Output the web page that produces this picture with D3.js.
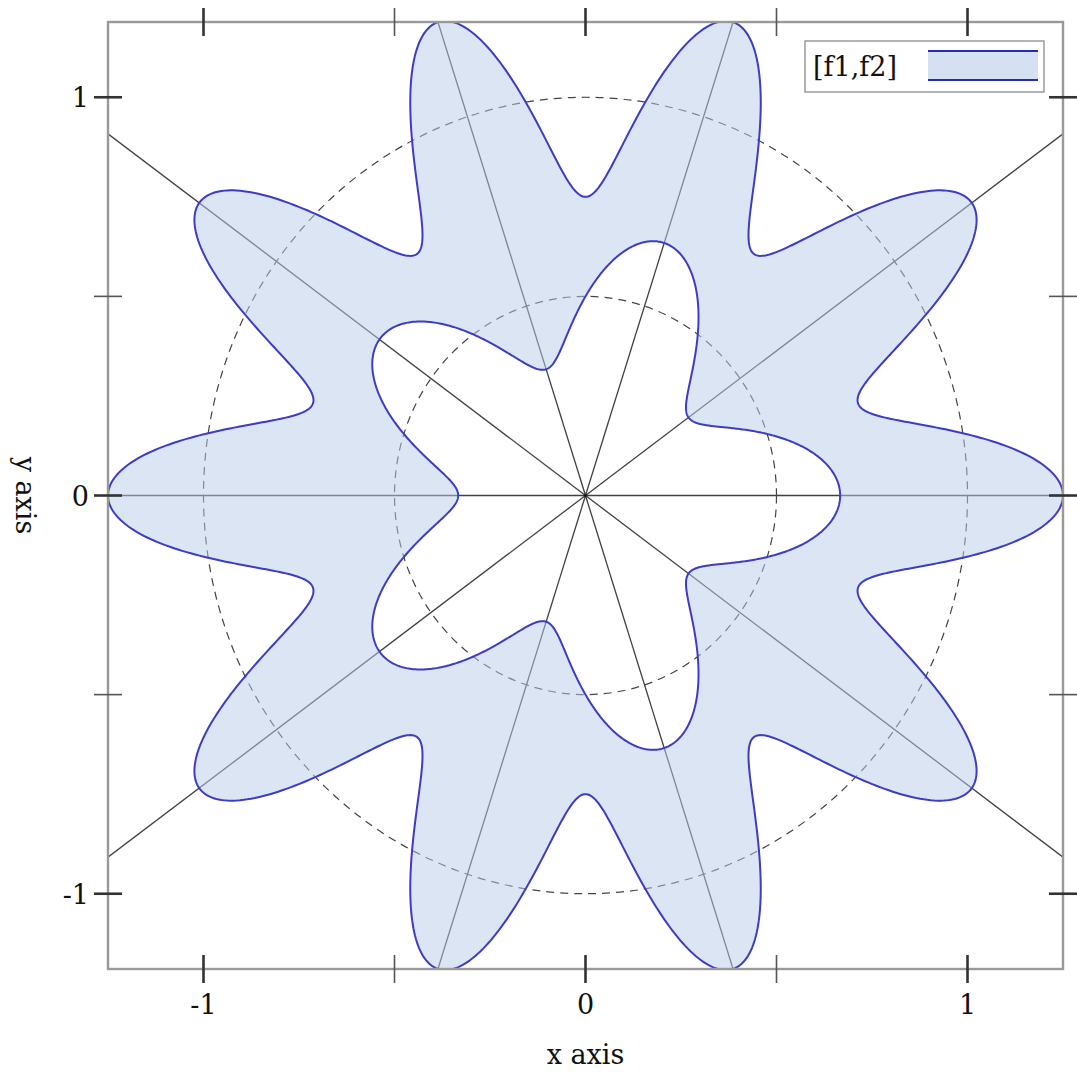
<!DOCTYPE html>
<html>
<head>
<meta charset="utf-8">
<script src="https://cdn.jsdelivr.net/npm/d3@7"></script>
<style>
  body { margin: 0; background: #fff; }
  text { font-family: 'DejaVu Serif', serif; fill: #111; }
</style>
</head>
<body>
<div id="chart"></div>
<script>
// r(θ) = base + amp * cos(freq * θ)
const innerCurve = [0.5, 1 / 6, 5];   // f1
const outerCurve = [1, 0.25, 10];     // f2
const axisCount = 10;                 // polar axes lines
const circleRadii = [0.5, 1];
const xMajorTicks = [-1, 0, 1];
const xMinorTicks = [-0.5, 0.5];
const yMajorTicks = [-1, 0, 1];
const yMinorTicks = [-0.5, 0.5];
const xDomain = [-1.25, 1.25];
const yDomain = [-1.189, 1.189];
const legendLabel = '[f1,f2]';

const width = 1077, height = 1078;
const mLeft = 108, mRight = 1063, mTop = 22, mBottom = 969;

const svg = d3.select('#chart').append('svg')
  .attr('width', width)
  .attr('height', height);

const x = d3.scaleLinear().domain(xDomain).range([mLeft, mRight]);
const y = d3.scaleLinear().domain(yDomain).range([mBottom, mTop]);

svg.append('defs').append('clipPath').attr('id', 'clip')
  .append('rect')
  .attr('x', mLeft).attr('y', mTop)
  .attr('width', mRight - mLeft).attr('height', mBottom - mTop);

const plot = svg.append('g').attr('clip-path', 'url(#clip)');

// polar axes: radial lines
const rMax = 3;
d3.range(axisCount).forEach(function(i) {
  const a = i * 2 * Math.PI / axisCount;
  plot.append('line')
    .attr('x1', x(0)).attr('y1', y(0))
    .attr('x2', x(rMax * Math.cos(a))).attr('y2', y(rMax * Math.sin(a)))
    .attr('stroke', '#111')
    .attr('stroke-opacity', 0.8)
    .attr('stroke-width', 1.3);
});

// dashed circles
circleRadii.forEach(function(r) {
  plot.append('ellipse')
    .attr('cx', x(0)).attr('cy', y(0))
    .attr('rx', x(r) - x(0)).attr('ry', y(0) - y(r))
    .attr('fill', 'none')
    .attr('stroke', '#444')
    .attr('stroke-width', 1.2)
    .attr('stroke-dasharray', '8,6');
});

function polarPoints(p) {
  const n = 1440;
  return d3.range(n + 1).map(function(i) {
    const t = i * 2 * Math.PI / n;
    const r = p[0] + p[1] * Math.cos(p[2] * t);
    return [r * Math.cos(t), r * Math.sin(t)];
  });
}

const outerPts = polarPoints(outerCurve);
const innerPts = polarPoints(innerCurve);

const line = d3.line()
  .x(function(d) { return x(d[0]); })
  .y(function(d) { return y(d[1]); });

// filled interval between the two curves
plot.append('path')
  .attr('d', line(outerPts) + 'Z' + line(innerPts.slice().reverse()) + 'Z')
  .attr('fill', 'rgb(185,203,233)')
  .attr('fill-opacity', 0.5)
  .attr('fill-rule', 'evenodd');

[outerPts, innerPts].forEach(function(pts) {
  plot.append('path')
    .attr('d', line(pts) + 'Z')
    .attr('fill', 'none')
    .attr('stroke', '#3c3cc6')
    .attr('stroke-width', 2);
});

// frame
svg.append('rect')
  .attr('x', mLeft).attr('y', mTop)
  .attr('width', mRight - mLeft).attr('height', mBottom - mTop)
  .attr('fill', 'none')
  .attr('stroke', '#999')
  .attr('stroke-width', 2.4);

// ticks on all four sides
const tickLen = 14;
function drawTicks(vals, major) {
  const w = major ? 2.6 : 1.6;
  const col = major ? '#333' : '#555';
  vals.forEach(function(v) {
    [mBottom, mTop].forEach(function(yy) {
      svg.append('line')
        .attr('x1', x(v)).attr('x2', x(v))
        .attr('y1', yy - tickLen).attr('y2', yy + tickLen)
        .attr('stroke', col).attr('stroke-width', w);
    });
  });
}
function drawYTicks(vals, major) {
  const w = major ? 2.6 : 1.6;
  const col = major ? '#333' : '#555';
  vals.forEach(function(v) {
    [mLeft, mRight].forEach(function(xx) {
      svg.append('line')
        .attr('y1', y(v)).attr('y2', y(v))
        .attr('x1', xx - tickLen).attr('x2', xx + tickLen)
        .attr('stroke', col).attr('stroke-width', w);
    });
  });
}
drawTicks(xMajorTicks, true);
drawTicks(xMinorTicks, false);
drawYTicks(yMajorTicks, true);
drawYTicks(yMinorTicks, false);

const fontSize = 27;
xMajorTicks.forEach(function(v) {
  svg.append('text')
    .attr('x', x(v)).attr('y', mBottom + 45)
    .attr('text-anchor', 'middle')
    .style('font-size', fontSize + 'px')
    .text(v);
});
yMajorTicks.forEach(function(v) {
  svg.append('text')
    .attr('x', mLeft - 19).attr('y', y(v) + 10)
    .attr('text-anchor', 'end')
    .style('font-size', fontSize + 'px')
    .text(v);
});

svg.append('text')
  .attr('x', x(0)).attr('y', 1064)
  .attr('text-anchor', 'middle')
  .style('font-size', fontSize + 'px')
  .text('x axis');

svg.append('text')
  .attr('transform', 'translate(16,' + y(0) + ') rotate(90)')
  .attr('text-anchor', 'middle')
  .style('font-size', fontSize + 'px')
  .text('y axis');

// legend
const lg = svg.append('g').attr('transform', 'translate(805,41)');
lg.append('rect')
  .attr('width', 239).attr('height', 51)
  .attr('fill', '#fff')
  .attr('stroke', '#999')
  .attr('stroke-width', 1.5);
lg.append('text')
  .attr('x', 8).attr('y', 35)
  .style('font-size', fontSize + 'px')
  .text(legendLabel);
lg.append('rect')
  .attr('x', 123).attr('y', 10)
  .attr('width', 110).attr('height', 29)
  .attr('fill', 'rgb(185,203,233)')
  .attr('fill-opacity', 0.6);
[10, 39].forEach(function(yy) {
  lg.append('line')
    .attr('x1', 123).attr('x2', 233)
    .attr('y1', yy).attr('y2', yy)
    .attr('stroke', '#2a2ab8')
    .attr('stroke-width', 2.2);
});
</script>
</body>
</html>
